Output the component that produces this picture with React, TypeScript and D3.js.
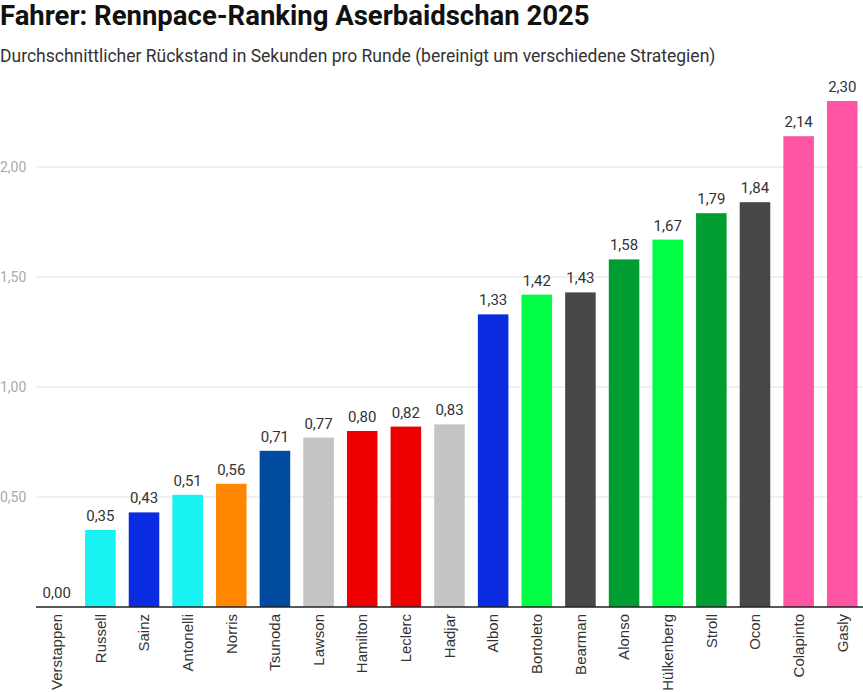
import { useEffect, useRef } from 'react';
import * as d3 from 'd3';

const drivers = [
  'Verstappen', 'Russell', 'Sainz', 'Antonelli', 'Norris', 'Tsunoda', 'Lawson', 'Hamilton', 'Leclerc', 'Hadjar',
  'Albon', 'Bortoleto', 'Bearman', 'Alonso', 'Hülkenberg', 'Stroll', 'Ocon', 'Colapinto', 'Gasly',
];
const gaps = [0, 0.35, 0.43, 0.51, 0.56, 0.71, 0.77, 0.8, 0.82, 0.83, 1.33, 1.42, 1.43, 1.58, 1.67, 1.79, 1.84, 2.14, 2.3];
const teamColors = [
  '#1e41ff', '#18f2f2', '#0a2be0', '#18f2f2', '#ff8700', '#004aa0', '#c4c4c4', '#ee0000', '#ee0000', '#c4c4c4',
  '#0a2be0', '#00ff44', '#474747', '#009e30', '#00ff44', '#009e30', '#474747', '#ff55a5', '#ff55a5',
];
const yTicks = [0.5, 1, 1.5, 2];

const title = 'Fahrer: Rennpace-Ranking Aserbaidschan 2025';
const subtitle = 'Durchschnittlicher Rückstand in Sekunden pro Runde (bereinigt um verschiedene Strategien)';

export default function App() {
  const svgRef = useRef<SVGSVGElement>(null);

  useEffect(() => {
    document.body.style.margin = '0';
    const width = 863;
    const height = 692;
    const marginLeft = 36;
    const baseline = 607;

    const svg = d3.select(svgRef.current);
    svg.selectAll('*').remove();
    svg.attr('width', width).attr('height', height).attr('viewBox', [0, 0, width, height]);
    svg.style('font-family', 'Roboto, sans-serif');

    const x = d3.scaleBand<string>().domain(drivers).range([marginLeft, width]).paddingInner(0.3).paddingOuter(0.125);
    const y = d3.scaleLinear().domain([0, 2.3]).range([baseline, baseline - 2.3 * 220]);
    const fmt = (v: number) => d3.format('.2f')(v).replace('.', ',');

    svg.append('text').attr('x', 0).attr('y', 25).attr('font-size', 27.5).attr('font-weight', 700)
      .attr('fill', '#111').text(title);
    svg.append('text').attr('x', 0).attr('y', 62).attr('font-size', 17.5).attr('fill', '#333').text(subtitle);

    // y grid and labels
    const yAxis = svg.append('g');
    yAxis.selectAll('line').data(yTicks).join('line')
      .attr('x1', marginLeft).attr('x2', width)
      .attr('y1', (d) => y(d)).attr('y2', (d) => y(d))
      .attr('stroke', '#e2e2e2').attr('stroke-width', 1);
    yAxis.selectAll('text').data(yTicks).join('text')
      .attr('x', 0).attr('y', (d) => y(d)).attr('dy', '0.35em')
      .attr('font-size', 14).attr('fill', '#aaaaaa').text(fmt);

    // bars
    const data = drivers.map((name, i) => ({ name, gap: gaps[i], color: teamColors[i] }));
    svg.append('g').selectAll('rect').data(data).join('rect')
      .attr('x', (d) => x(d.name)!).attr('width', x.bandwidth())
      .attr('y', (d) => y(d.gap)).attr('height', (d) => baseline - y(d.gap))
      .attr('fill', (d) => d.color);

    svg.append('g').selectAll('text').data(data).join('text')
      .attr('x', (d) => x(d.name)! + x.bandwidth() / 2).attr('y', (d) => y(d.gap) - 9)
      .attr('text-anchor', 'middle').attr('font-size', 15).attr('fill', '#333').text((d) => fmt(d.gap));

    // x axis
    svg.append('line').attr('x1', marginLeft).attr('x2', width).attr('y1', baseline).attr('y2', baseline)
      .attr('stroke', '#222').attr('stroke-width', 1.5);
    svg.append('g').selectAll('text').data(drivers).join('text')
      .attr('transform', (d) => `translate(${x(d)! + x.bandwidth() / 2},${baseline + 7}) rotate(-90)`)
      .attr('text-anchor', 'end').attr('dy', '0.35em')
      .attr('font-family', '"Liberation Sans", Arial, sans-serif')
      .attr('font-size', 15).attr('fill', '#333').text((d) => d);
  }, []);

  return <svg ref={svgRef} style={{ display: 'block' }} />;
}
